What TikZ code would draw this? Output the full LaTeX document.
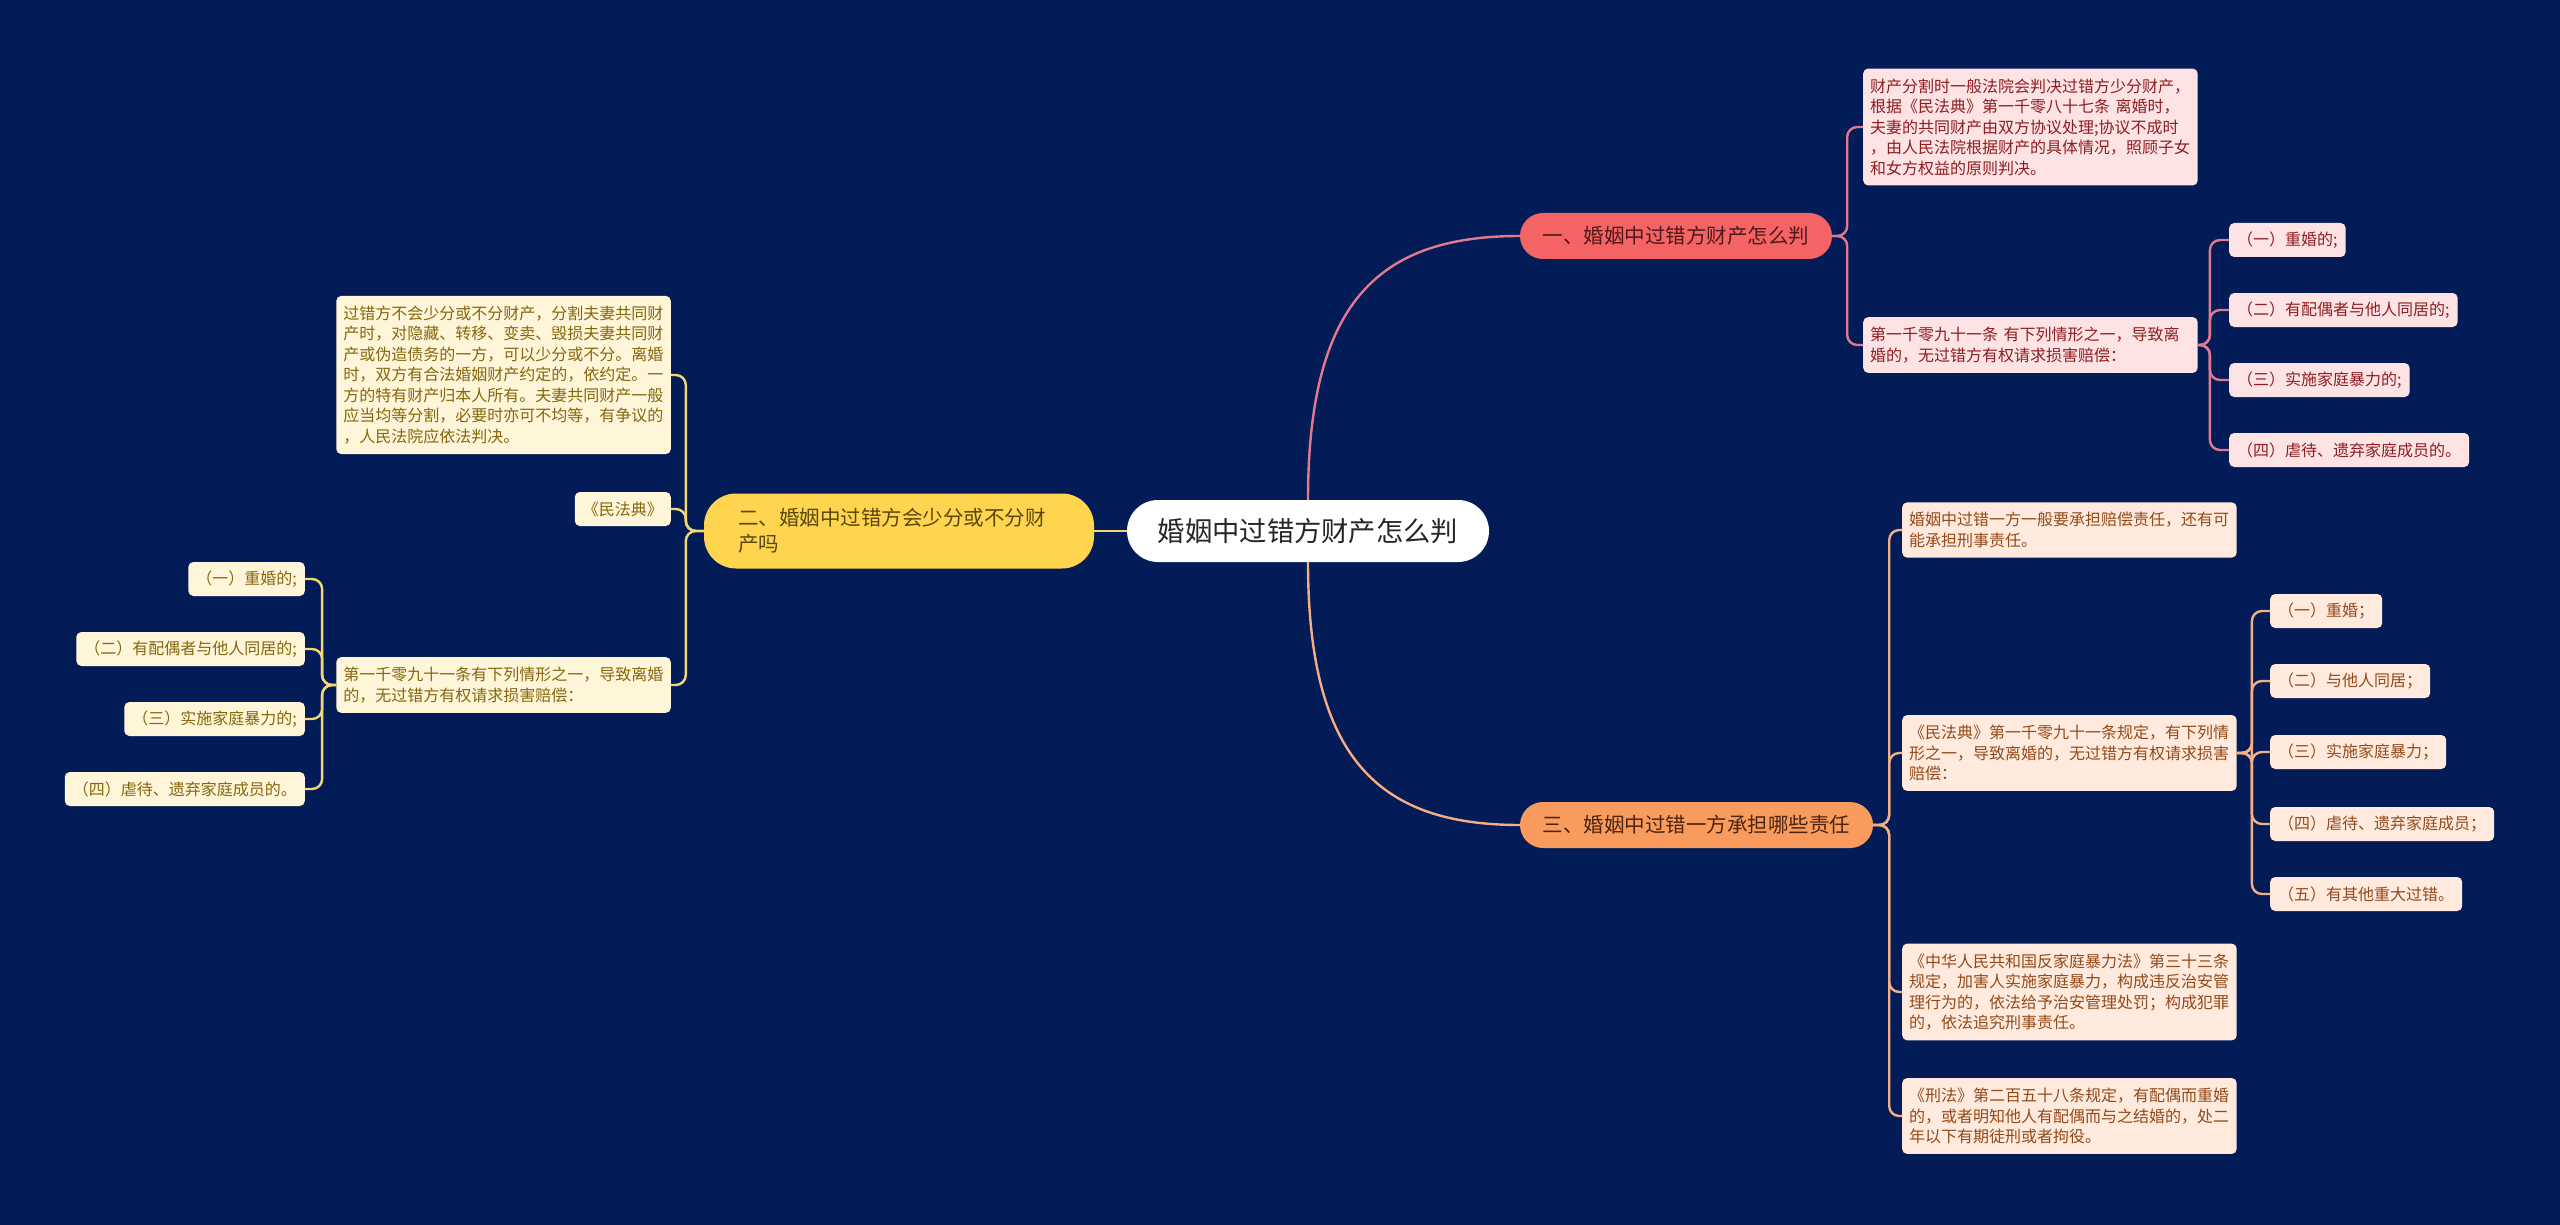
\documentclass[tikz,border=0pt]{standalone}
\usepackage{fontspec}
\setmainfont{Noto Sans CJK SC}
\definecolor{bg}{HTML}{031C57}
\definecolor{pinkT}{HTML}{F46464}
\definecolor{pinkL}{HTML}{E27A8E}
\definecolor{pinkF}{HTML}{FDE3E3}
\definecolor{pinkTx}{HTML}{8E1E22}
\definecolor{pinkTT}{HTML}{4E1818}
\definecolor{yelT}{HTML}{FFD54F}
\definecolor{yelL}{HTML}{F3D675}
\definecolor{yelF}{HTML}{FFF5D8}
\definecolor{yelTx}{HTML}{86670E}
\definecolor{yelTT}{HTML}{5A470A}
\definecolor{orgT}{HTML}{F99B5C}
\definecolor{orgL}{HTML}{F3AE84}
\definecolor{orgF}{HTML}{FFEADD}
\definecolor{orgTx}{HTML}{934A1A}
\definecolor{orgTT}{HTML}{4A2410}
\tikzset{
  rootbox/.style={fill=white, text=black!85, rounded corners=31pt, minimum width=362pt, minimum height=62pt, font=\fontsize{27.3}{32}\selectfont, inner sep=0pt},
  topicbox/.style={rounded corners=23pt, minimum height=46pt, font=\fontsize{20.5}{26}\selectfont, inner xsep=0pt, inner ysep=0pt},
  leafbox/.style={rounded corners=5pt, font=\fontsize{16}{20.5}\selectfont, align=left, inner xsep=7pt, inner ysep=10pt},
  textbox/.style={leafbox, text width=320.5pt},
  itembox/.style={leafbox, minimum height=34pt, inner ysep=0pt, inner xsep=8pt},
  pleaf/.style={fill=pinkF, text=pinkTx},
  yleaf/.style={fill=yelF, text=yelTx},
  oleaf/.style={fill=orgF, text=orgTx},
  conn/.style={line width=2.4pt, rounded corners=10pt},
  pconn/.style={conn, draw=pinkL},
  yconn/.style={conn, draw=yelL},
  oconn/.style={conn, draw=orgL}
}
\begin{document}
\begin{tikzpicture}[x=1pt, y=-1pt]
\fill[bg] (0,0) rectangle (2560,1225);
\useasboundingbox (0,0) rectangle (2560,1225);

% root
\node[rootbox] (root) at (1308,531) {婚姻中过错方财产怎么判};

% topics
\node[topicbox, fill=pinkT, text=pinkTT, minimum width=312pt] (p) at (1676,236) {一、婚姻中过错方财产怎么判};
\node[topicbox, fill=orgT, text=orgTT, minimum width=353pt] (o) at (1696.5,825) {三、婚姻中过错一方承担哪些责任};
\node[topicbox, fill=yelT, text=yelTT, text width=322pt, inner xsep=34pt, align=left, minimum height=75pt, rounded corners=32pt] (y) at (899,531) {二、婚姻中过错方会少分或不分财\\产吗};

% pink subtree
\node[textbox, pleaf, anchor=west] (p1) at (1863,127) {财产分割时一般法院会判决过错方少分财产，\\根据《民法典》第一千零八十七条 离婚时，\\夫妻的共同财产由双方协议处理;协议不成时\\，由人民法院根据财产的具体情况，照顾子女\\和女方权益的原则判决。};
\node[textbox, pleaf, anchor=west] (p2) at (1863,345) {第一千零九十一条 有下列情形之一，导致离\\婚的，无过错方有权请求损害赔偿：};
\node[itembox, pleaf, anchor=west] (p21) at (2229,240) {（一）重婚的;};
\node[itembox, pleaf, anchor=west] (p22) at (2229,310) {（二）有配偶者与他人同居的;};
\node[itembox, pleaf, anchor=west] (p23) at (2229,380) {（三）实施家庭暴力的;};
\node[itembox, pleaf, anchor=west] (p24) at (2229,450) {（四）虐待、遗弃家庭成员的。};

% orange subtree
\node[textbox, oleaf, anchor=west] (o1) at (1902,530) {婚姻中过错一方一般要承担赔偿责任，还有可\\能承担刑事责任。};
\node[textbox, oleaf, anchor=west] (o2) at (1902,753) {《民法典》第一千零九十一条规定，有下列情\\形之一，导致离婚的，无过错方有权请求损害\\赔偿：};
\node[textbox, oleaf, anchor=west] (o3) at (1902,992) {《中华人民共和国反家庭暴力法》第三十三条\\规定，加害人实施家庭暴力，构成违反治安管\\理行为的，依法给予治安管理处罚；构成犯罪\\的，依法追究刑事责任。};
\node[textbox, oleaf, anchor=west] (o4) at (1902,1116) {《刑法》第二百五十八条规定，有配偶而重婚\\的，或者明知他人有配偶而与之结婚的，处二\\年以下有期徒刑或者拘役。};
\node[itembox, oleaf, anchor=west] (o21) at (2270,611) {（一）重婚；};
\node[itembox, oleaf, anchor=west] (o22) at (2270,681) {（二）与他人同居；};
\node[itembox, oleaf, anchor=west] (o23) at (2270,752) {（三）实施家庭暴力；};
\node[itembox, oleaf, anchor=west] (o24) at (2270,824) {（四）虐待、遗弃家庭成员；};
\node[itembox, oleaf, anchor=west] (o25) at (2270,894) {（五）有其他重大过错。};

% yellow subtree
\node[textbox, yleaf, anchor=east] (y1) at (671,375) {过错方不会少分或不分财产，分割夫妻共同财\\产时，对隐藏、转移、变卖、毁损夫妻共同财\\产或伪造债务的一方，可以少分或不分。离婚\\时，双方有合法婚姻财产约定的，依约定。一\\方的特有财产归本人所有。夫妻共同财产一般\\应当均等分割，必要时亦可不均等，有争议的\\，人民法院应依法判决。};
\node[itembox, yleaf, anchor=east, inner xsep=8pt] (y2) at (671,509) {《民法典》};
\node[textbox, yleaf, anchor=east] (y3) at (671,685) {第一千零九十一条有下列情形之一，导致离婚\\的，无过错方有权请求损害赔偿：};
\node[itembox, yleaf, anchor=east] (y31) at (305,579) {（一）重婚的;};
\node[itembox, yleaf, anchor=east] (y32) at (305,649) {（二）有配偶者与他人同居的;};
\node[itembox, yleaf, anchor=east] (y33) at (305,719) {（三）实施家庭暴力的;};
\node[itembox, yleaf, anchor=east] (y34) at (305,789) {（四）虐待、遗弃家庭成员的。};

% main connectors
\draw[line width=2.4pt, draw=pinkL] (root.north) .. controls (1308,300) and (1380,236) .. (p.west);
\draw[line width=2.4pt, draw=orgL] (root.south) .. controls (1308,760) and (1380,825) .. (o.west);
\draw[line width=2.4pt, draw=yelL] (root.west) -- (y.east);

% pink connectors
\foreach \c in {p1,p2} \draw[pconn] (p.east) -- ++(15,0) |- (\c.west);
\foreach \c in {p21,p22,p23,p24} \draw[pconn] (p2.east) -- ++(12,0) |- (\c.west);

% orange connectors
\foreach \c in {o1,o2,o3,o4} \draw[oconn] (o.east) -- ++(16,0) |- (\c.west);
\foreach \c in {o21,o22,o23,o24,o25} \draw[oconn] (o2.east) -- ++(15,0) |- (\c.west);

% yellow connectors
\foreach \c in {y1,y2,y3} \draw[yconn] (y.west) -- ++(-18,0) |- (\c.east);
\foreach \c in {y31,y32,y33,y34} \draw[yconn] (y3.west) -- ++(-14,0) |- (\c.east);
\end{tikzpicture}
\end{document}
